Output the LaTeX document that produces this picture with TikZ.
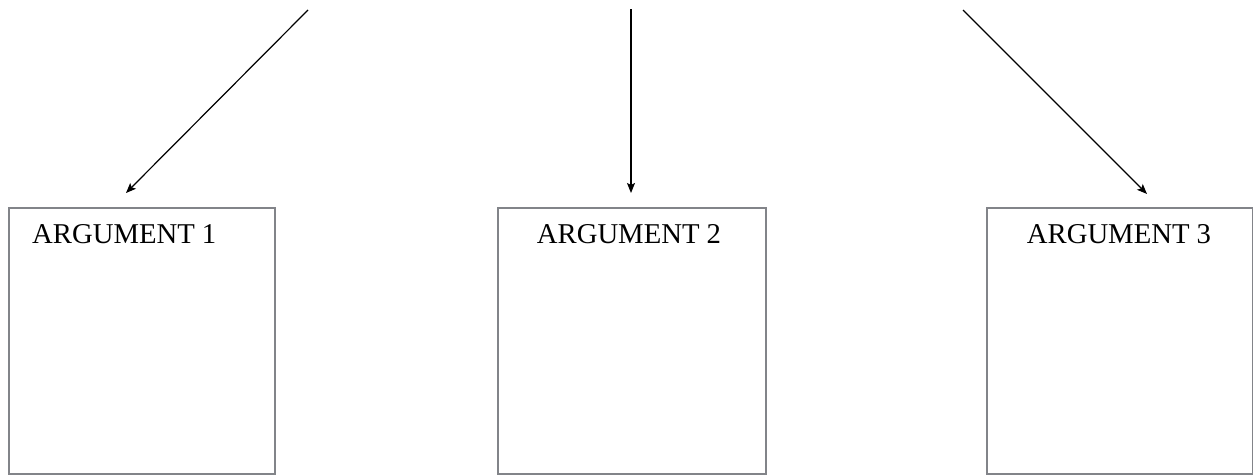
\documentclass[tikz,border=0pt]{standalone}
\usepackage{fontspec}
\setmainfont{Liberation Serif}
\usetikzlibrary{arrows.meta}
\begin{document}
\begin{tikzpicture}[x=1pt,y=-1pt,
  argbox/.style={draw={rgb,255:red,130;green,132;blue,137},line width=2pt,minimum width=266pt,minimum height=266pt,inner sep=0pt,anchor=north west},
  argtext/.style={font=\fontsize{28.7pt}{30pt}\selectfont,inner sep=0pt,anchor=base},
  conn/.style={draw=black,line width=1.2pt,-{Stealth[length=10pt,width=8pt,inset=2pt]}}]
\useasboundingbox (0,0) rectangle (1253,474);
\node[argbox] (b1) at (8,207) {};
\node[argbox,minimum width=268pt] (b2) at (497,207) {};
\node[argbox] (b3) at (986,207) {};
\node[argtext,anchor=base west] (t1) at (32,243) {ARGUMENT 1};
\node[argtext] (t2) at (629,243) {ARGUMENT 2};
\node[argtext] (t3) at (1119,243) {ARGUMENT 3};
\coordinate (s1) at (308,10);
\coordinate (s2) at (631,9);
\coordinate (s3) at (963,10);
\coordinate (e1) at (126,193);
\coordinate (e2) at (631,193);
\coordinate (e3) at (1147,194);
\draw[conn] (s1) -- (e1);
\draw[conn] (s2) -- (e2);
\draw[conn] (s3) -- (e3);
\end{tikzpicture}
\end{document}
